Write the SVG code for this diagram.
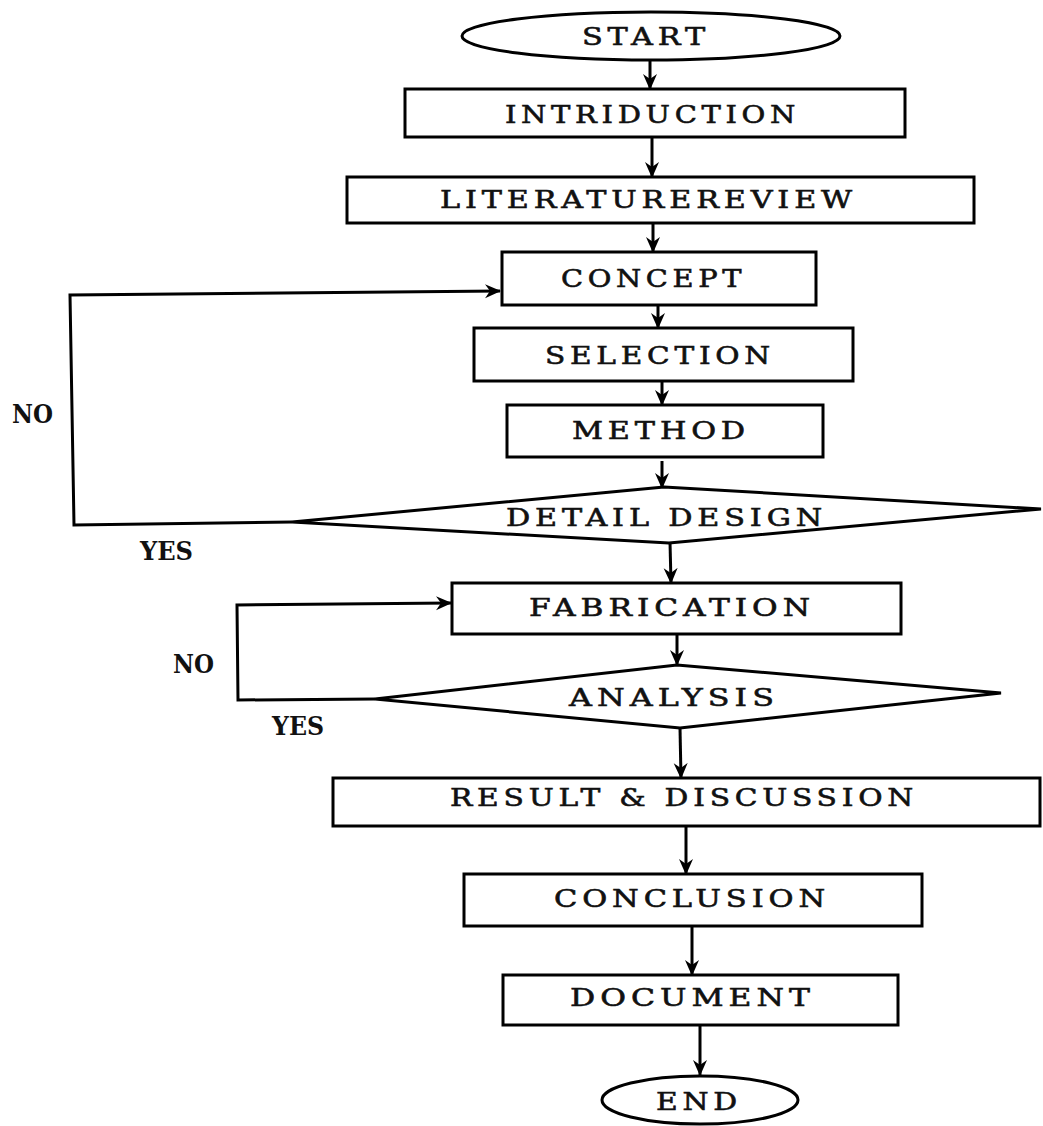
<svg xmlns="http://www.w3.org/2000/svg" width="1043" height="1126" viewBox="0 0 1043 1126">
<defs>
<marker id="ah" markerUnits="userSpaceOnUse" markerWidth="16" markerHeight="16" viewBox="0 0 16 16" refX="15" refY="8" orient="auto">
<path d="M0,1 L16,8 L0,15 L5,8 z" fill="#000"/>
</marker>
<style>
.n{fill:#fff;stroke:#000;stroke-width:3}
.t{font-family:"DejaVu Serif","Liberation Serif",serif;font-size:25px;letter-spacing:4px;fill:#111;stroke:#111;stroke-width:0.6}
.l{font-family:"DejaVu Serif","Liberation Serif",serif;font-size:26px;font-weight:bold;fill:#111}
.c{fill:none;stroke:#000;stroke-width:3}
</style>
</defs>
<rect width="1043" height="1126" fill="#fff"/>
<g id="connectors">
<line class="c" x1="650" y1="60" x2="650" y2="89" marker-end="url(#ah)"/>
<line class="c" x1="652" y1="137" x2="652" y2="177" marker-end="url(#ah)"/>
<line class="c" x1="653" y1="223" x2="653" y2="252" marker-end="url(#ah)"/>
<line class="c" x1="658" y1="305" x2="658" y2="328" marker-end="url(#ah)"/>
<line class="c" x1="662" y1="381" x2="662" y2="405" marker-end="url(#ah)"/>
<line class="c" x1="662" y1="461" x2="662" y2="488" marker-end="url(#ah)"/>
<line class="c" x1="670" y1="542" x2="671" y2="583" marker-end="url(#ah)"/>
<line class="c" x1="677" y1="634" x2="677" y2="665" marker-end="url(#ah)"/>
<line class="c" x1="680" y1="728" x2="681" y2="778" marker-end="url(#ah)"/>
<line class="c" x1="686" y1="826" x2="686" y2="874" marker-end="url(#ah)"/>
<line class="c" x1="692" y1="926" x2="692" y2="975" marker-end="url(#ah)"/>
<line class="c" x1="700" y1="1025" x2="700" y2="1075" marker-end="url(#ah)"/>
<polyline class="c" points="292,522 74,525 70,295 500,291" marker-end="url(#ah)"/>
<polyline class="c" points="375,699 238,700 237,605 451,603" marker-end="url(#ah)"/>
</g>
<g id="start">
<ellipse class="n" cx="651" cy="36" rx="189" ry="24"/>
<text class="t" x="582" y="45" textLength="128" lengthAdjust="spacingAndGlyphs">START</text>
</g>
<g id="introduction">
<rect class="n" x="405" y="89" width="500" height="48"/>
<text class="t" x="505" y="123" textLength="295" lengthAdjust="spacingAndGlyphs">INTRIDUCTION</text>
</g>
<g id="literature">
<rect class="n" x="347" y="177" width="627" height="46"/>
<text class="t" x="440" y="208" textLength="417" lengthAdjust="spacingAndGlyphs">LITERATUREREVIEW</text>
</g>
<g id="concept">
<rect class="n" x="502" y="252" width="314" height="53"/>
<text class="t" x="561" y="287" textLength="185" lengthAdjust="spacingAndGlyphs">CONCEPT</text>
</g>
<g id="selection">
<rect class="n" x="474" y="328" width="379" height="53"/>
<text class="t" x="545" y="364" textLength="230" lengthAdjust="spacingAndGlyphs">SELECTION</text>
</g>
<g id="method">
<rect class="n" x="507" y="405" width="316" height="52"/>
<text class="t" x="572" y="439" textLength="178" lengthAdjust="spacingAndGlyphs">METHOD</text>
</g>
<g id="detail-design">
<polygon class="n" points="292,522 664,487 1041,509 669,543"/>
<text class="t" x="506" y="526" textLength="321" lengthAdjust="spacingAndGlyphs">DETAIL DESIGN</text>
</g>
<g id="fabrication">
<rect class="n" x="452" y="583" width="449" height="51"/>
<text class="t" x="529" y="616" textLength="286" lengthAdjust="spacingAndGlyphs">FABRICATION</text>
</g>
<g id="analysis">
<polygon class="n" points="375,699 677,665 1001,693 680,728"/>
<text class="t" x="569" y="706" textLength="210" lengthAdjust="spacingAndGlyphs">ANALYSIS</text>
</g>
<g id="result">
<rect class="n" x="333" y="778" width="707" height="48"/>
<text class="t" x="450" y="806" textLength="468" lengthAdjust="spacingAndGlyphs">RESULT &amp; DISCUSSION</text>
</g>
<g id="conclusion">
<rect class="n" x="464" y="874" width="458" height="52"/>
<text class="t" x="554" y="907" textLength="276" lengthAdjust="spacingAndGlyphs">CONCLUSION</text>
</g>
<g id="document">
<rect class="n" x="503" y="975" width="395" height="50"/>
<text class="t" x="570" y="1006" textLength="245" lengthAdjust="spacingAndGlyphs">DOCUMENT</text>
</g>
<g id="end">
<ellipse class="n" cx="700" cy="1100" rx="98" ry="24"/>
<text class="t" x="656" y="1110" textLength="86" lengthAdjust="spacingAndGlyphs">END</text>
</g>
<g id="labels">
<text class="l" x="12" y="423" textLength="41" lengthAdjust="spacingAndGlyphs">NO</text>
<text class="l" x="140" y="560" textLength="53" lengthAdjust="spacingAndGlyphs">YES</text>
<text class="l" x="173" y="673" textLength="41" lengthAdjust="spacingAndGlyphs">NO</text>
<text class="l" x="272" y="735" textLength="52" lengthAdjust="spacingAndGlyphs">YES</text>
</g>
</svg>
